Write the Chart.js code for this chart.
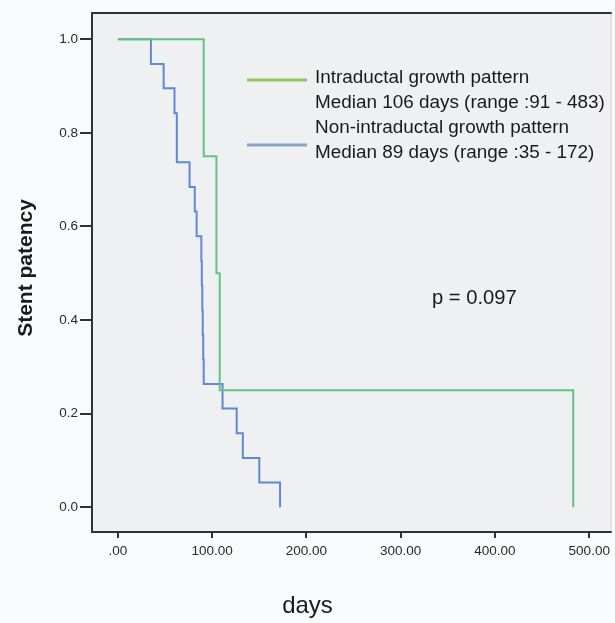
<!DOCTYPE html>
<html>
<head>
<meta charset="utf-8">
<script src="https://cdn.jsdelivr.net/npm/chart.js@4.4.1/dist/chart.umd.min.js"></script>
<style>
  html, body { margin: 0; padding: 0; background: #f9fafc; }
  canvas { display: block; }
</style>
</head>
<body>
<canvas id="c" width="615" height="623"></canvas>
<script>
// ---- data ----
const intraDays = [0, 91, 104.5, 108, 483];
const intraSurv = [1.0, 0.75, 0.5, 0.25, 0.0];

const nonIntraDays = [0, 35, 48.5, 60, 62.5, 76, 81.5, 83.5, 88.5, 89, 89.5, 90, 90.5, 91, 111, 126, 132.5, 150, 172];
const nonIntraSurv = [1.0, 0.947, 0.895, 0.842, 0.737, 0.684, 0.632, 0.579, 0.526, 0.474, 0.421, 0.368, 0.316, 0.263, 0.211, 0.158, 0.105, 0.053, 0.0];

const xTickValues = [0, 100, 200, 300, 400, 500];
const xTickLabels = ['.00', '100.00', '200.00', '300.00', '400.00', '500.00'];
const yTickValues = [0, 0.2, 0.4, 0.6, 0.8, 1.0];
const yTickLabels = ['0.0', '0.2', '0.4', '0.6', '0.8', '1.0'];

const legendLines = [
  'Intraductal growth pattern',
  'Median 106 days (range :91 - 483)',
  'Non-intraductal growth pattern',
  'Median 89 days (range :35 - 172)'
];
const pValueText = 'p = 0.097';
const xTitle = 'days';
const yTitle = 'Stent patency';

const FONT = '"Liberation Sans", Arial, sans-serif';

const toPoints = (xs, ys) => xs.map((x, i) => ({ x: x, y: ys[i] }));

const decor = {
  id: 'decor',
  beforeDraw(chart) {
    const { ctx, chartArea: a } = chart;
    ctx.save();
    ctx.fillStyle = '#f9fafc';
    ctx.fillRect(0, 0, chart.width, chart.height);
    ctx.fillStyle = '#eef0f2';
    ctx.fillRect(a.left, a.top, a.right - a.left, a.bottom - a.top);
    ctx.restore();
  },
  afterDraw(chart) {
    const { ctx, chartArea: a } = chart;
    ctx.save();
    // right edge (faint)
    ctx.strokeStyle = '#ecd3c6';
    ctx.lineWidth = 1;
    ctx.beginPath();
    ctx.moveTo(a.right - 0.5, a.top);
    ctx.lineTo(a.right - 0.5, a.bottom);
    ctx.stroke();
    // left, top, bottom dark frame
    ctx.strokeStyle = '#2b3535';
    ctx.lineWidth = 2;
    ctx.beginPath();
    ctx.moveTo(a.right, a.top);
    ctx.lineTo(a.left, a.top);
    ctx.lineTo(a.left, a.bottom);
    ctx.lineTo(a.right, a.bottom);
    ctx.stroke();

    // legend
    ctx.lineWidth = 3;
    ctx.strokeStyle = '#8cc85c';
    ctx.beginPath(); ctx.moveTo(247, 80); ctx.lineTo(307, 80); ctx.stroke();
    ctx.strokeStyle = '#8ba4c9';
    ctx.beginPath(); ctx.moveTo(247, 145); ctx.lineTo(307, 145); ctx.stroke();

    ctx.fillStyle = '#1a1a1a';
    ctx.font = '18.9px ' + FONT;
    ctx.textAlign = 'left';
    ctx.textBaseline = 'middle';
    const ly = [78, 103, 128, 153];
    legendLines.forEach((t, i) => ctx.fillText(t, 315, ly[i]));

    // p value
    ctx.font = '20.2px ' + FONT;
    ctx.fillText(pValueText, 432, 298);

    // axis titles
    ctx.textAlign = 'center';
    ctx.font = '24px ' + FONT;
    ctx.fillText(xTitle, 307.5, 606);
    ctx.save();
    ctx.translate(26, 268);
    ctx.rotate(-Math.PI / 2);
    ctx.font = 'bold 21px ' + FONT;
    ctx.fillText(yTitle, 0, 0);
    ctx.restore();
    ctx.restore();
  }
};

new Chart(document.getElementById('c'), {
  type: 'line',
  data: {
    datasets: [
      {
        label: 'Intraductal growth pattern',
        data: toPoints(intraDays, intraSurv),
        stepped: true,
        borderColor: '#62c383',
        borderWidth: 2,
        pointRadius: 0,
        fill: false
      },
      {
        label: 'Non-intraductal growth pattern',
        data: toPoints(nonIntraDays, nonIntraSurv),
        stepped: true,
        borderColor: '#5f88d6',
        borderWidth: 2,
        pointRadius: 0,
        fill: false
      }
    ]
  },
  options: {
    responsive: false,
    animation: false,
    events: [],
    layout: { padding: { top: 13, right: 2.5, left: 0, bottom: 0 } },
    plugins: { legend: { display: false }, tooltip: { enabled: false } },
    scales: {
      x: {
        type: 'linear',
        min: -27.5,
        max: 523.8,
        afterFit(s) { s.height = 91; },
        afterBuildTicks(s) { s.ticks = xTickValues.map(v => ({ value: v })); },
        border: { display: false },
        grid: { drawOnChartArea: false, drawTicks: true, tickLength: 6, color: '#2b3535', lineWidth: 2 },
        ticks: {
          padding: 5,
          color: '#2a2a2a',
          font: { family: FONT, size: 13.5 },
          maxRotation: 0,
          autoSkip: false,
          callback: (v, i) => xTickLabels[i]
        }
      },
      y: {
        type: 'linear',
        min: -0.053,
        max: 1.056,
        afterFit(s) { s.width = 92; },
        afterBuildTicks(s) { s.ticks = yTickValues.map(v => ({ value: v })); },
        border: { display: false },
        grid: { drawOnChartArea: false, drawTicks: true, tickLength: 12, color: '#2b3535', lineWidth: 2 },
        ticks: {
          padding: 2,
          color: '#2a2a2a',
          font: { family: FONT, size: 13.5 },
          autoSkip: false,
          callback: (v, i) => yTickLabels[i]
        }
      }
    }
  },
  plugins: [decor]
});
</script>
</body>
</html>
